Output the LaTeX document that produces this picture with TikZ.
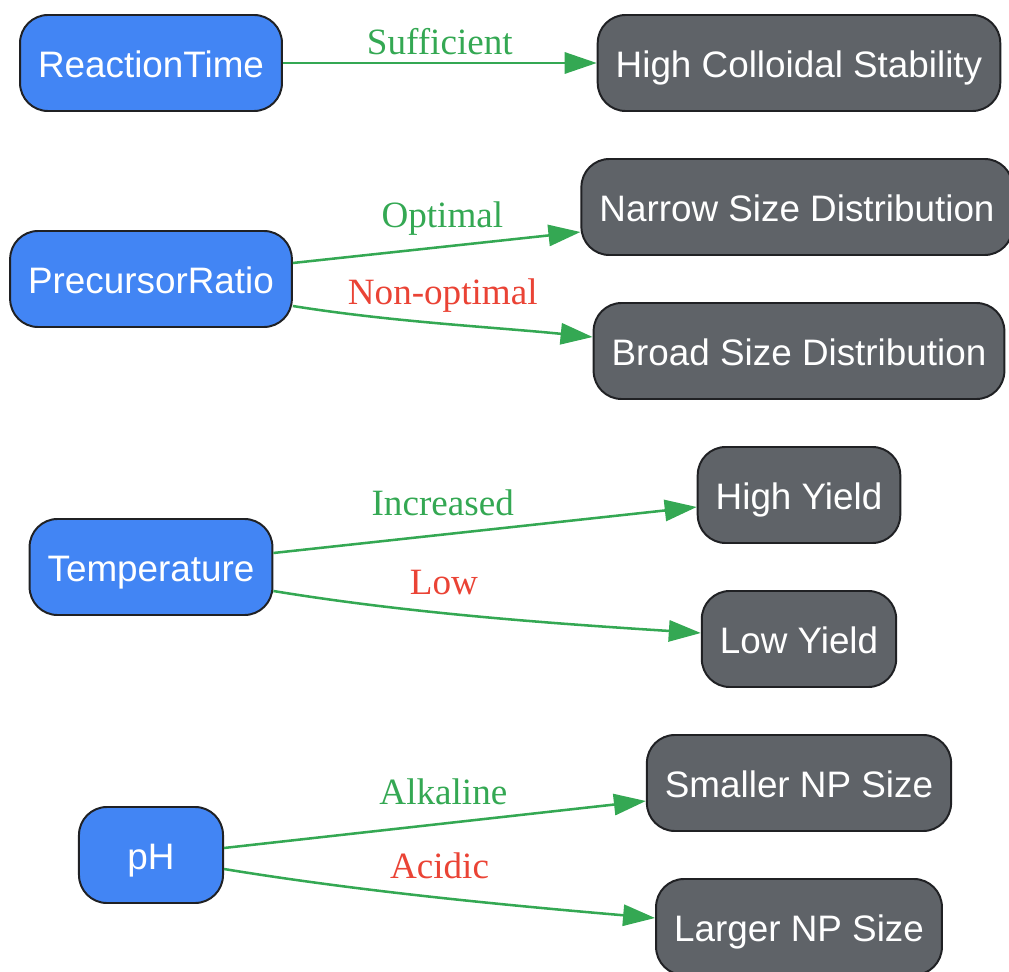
\documentclass[tikz,border=0pt]{standalone}
\usepackage{fontspec}
\setmainfont{Liberation Serif}
\newfontfamily\boxfont{Liberation Sans}
\usepackage{xcolor}
\usepackage{tikz}
\usetikzlibrary{arrows.meta}

\definecolor{causeblue}{HTML}{4285F4}
\definecolor{effectgray}{HTML}{5F6368}
\definecolor{rimdark}{HTML}{202124}
\definecolor{linkgreen}{HTML}{34A853}
\definecolor{warnred}{HTML}{EA4335}

\begin{document}
\begin{tikzpicture}[x=0.025cm, y=-0.025cm,
    box/.style={draw=rimdark, line width=1.4pt, rounded corners=0.7cm,
        minimum height=2.4cm, minimum width=3.6cm, inner xsep=0.45cm,
        text height=22.5pt, text depth=1.3pt,
        text=white, font=\boxfont\fontsize{26.2}{31}\selectfont},
    cause/.style={box, fill=causeblue},
    effect/.style={box, fill=effectgray},
    link/.style={draw=linkgreen, line width=1.8pt,
        -{Triangle[length=0.8cm, width=0.53cm]}},
    lbl/.style={anchor=base, yshift=0.475cm, font=\fontsize{26.4}{31}\selectfont},
    goodlbl/.style={lbl, text=linkgreen},
    badlbl/.style={lbl, text=warnred}]
    \useasboundingbox (0,0) rectangle (1009,972);

    % Factors
    \node[cause] (rtime) at (151,63) {ReactionTime};
    \node[cause] (pratio) at (151,279) {PrecursorRatio};
    \node[cause] (temp) at (151,567) {Temperature};
    \node[cause] (ph) at (151,855) {pH};

    % Outcomes
    \node[effect] (hcs) at (799,63) {High Colloidal Stability};
    \node[effect] (narrow) at (797,207) {Narrow Size Distribution};
    \node[effect] (broad) at (799,351) {Broad Size Distribution};
    \node[effect] (hyield) at (799,495) {High Yield};
    \node[effect] (lyield) at (799,639) {Low Yield};
    \node[effect] (smaller) at (799,783) {Smaller NP Size};
    \node[effect] (larger) at (799,927) {Larger NP Size};

    % Reaction time
    \draw[link] (rtime.east) -- node[goodlbl, yshift=-0.275cm] {Sufficient} (hcs.west);

    % Precursor ratio
    \draw[link] ([yshift=0.4cm]pratio.east) -- node[goodlbl, pos=0.52] {Optimal}
        ([yshift=-0.625cm]narrow.west);
    \draw[link] ([yshift=-0.675cm]pratio.east) .. controls +(100,16) and +(-100,-10) ..
        node[badlbl, pos=0.5] {Non-optimal} ([yshift=0.35cm]broad.west);

    % Temperature
    \draw[link] ([yshift=0.35cm]temp.east) -- node[goodlbl, pos=0.4] {Increased}
        ([yshift=-0.3cm]hyield.west);
    \draw[link] ([yshift=-0.6cm]temp.east) .. controls +(140,23) and +(-140,-9) ..
        node[badlbl, pos=0.4] {Low} ([yshift=0.15cm]lyield.west);

    % pH
    \draw[link] ([yshift=0.175cm]ph.east) -- node[goodlbl, pos=0.52] {Alkaline}
        ([yshift=-0.45cm]smaller.west);
    \draw[link] ([yshift=-0.35cm]ph.east) .. controls +(140,23) and +(-140,-12) ..
        node[badlbl, pos=0.5] {Acidic} ([yshift=0.225cm]larger.west);
\end{tikzpicture}
\end{document}
